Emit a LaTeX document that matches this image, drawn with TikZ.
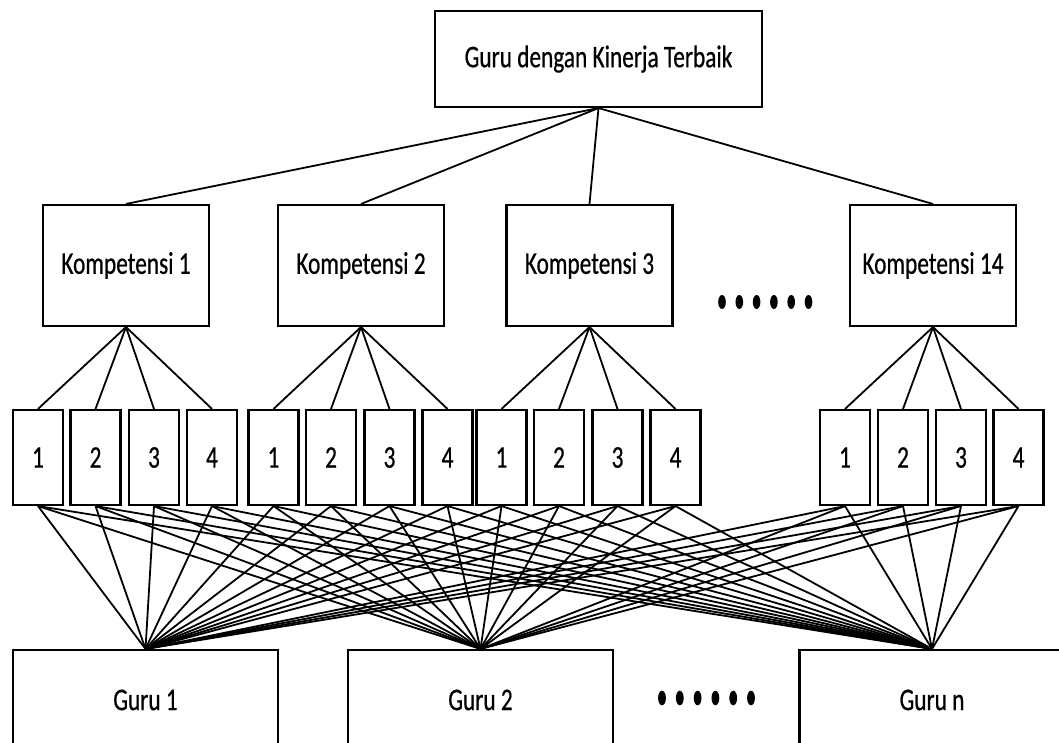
\documentclass[tikz,border=0pt]{standalone}
\usepackage{fontspec}
\setmainfont{Carlito}[FakeStretch=0.74,FakeBold=0.6]
\begin{document}
\begin{tikzpicture}[x=1pt,y=-1pt,
  box/.style={draw,line width=2.1pt,inner sep=0pt,rectangle,
    font=\fontsize{31.5}{36}\selectfont},
  topbox/.style={box,minimum width=327pt,minimum height=96pt},
  kbox/.style={box,minimum width=166pt,minimum height=121pt},
  ibox/.style={box,minimum width=50pt,minimum height=95pt},
  gbox/.style={box,minimum width=265pt,minimum height=100pt},
  link/.style={line width=1.8pt},
  dot/.style={fill=black}]
\useasboundingbox (0,0) rectangle (1059,743);
\clip (0,0) rectangle (1059,743);

% goal
\node[topbox] (top) at (598.5,59) {Guru dengan Kinerja Terbaik};

% criteria
\node[kbox] (k1)  at (126,265.5)   {Kompetensi 1};
\node[kbox] (k2)  at (361,265.5)   {Kompetensi 2};
\node[kbox] (k3)  at (589.5,265.5) {Kompetensi 3};
\node[kbox] (k14) at (933,265.5)   {Kompetensi 14};

\foreach \k in {k1,k2,k3,k14}
  \draw[link] (top.south) -- (\k.north);

% sub-criteria, four under each criterion
\foreach \k/\xs in {k1/{38,95.5,154,212},
                    k2/{273.5,331,389.5,447.5},
                    k3/{501.5,559,617.5,675.5},
                    k14/{845,903,961,1018.5}}{
  \foreach \x [count=\i] in \xs {
    \node[ibox] (\k-\i) at (\x,457.5) {\i};
    \draw[link] (\k.south) -- (\k-\i.north);
  }
}

% alternatives
\node[gbox] (g1) at (145.5,700) {Guru 1};
\node[gbox] (g2) at (480.5,700) {Guru 2};
\node[gbox] (gn) at (932,700)   {Guru n};

\foreach \k in {k1,k2,k3,k14}
  \foreach \i in {1,...,4}
    \foreach \g in {g1,g2,gn}
      \draw[link] (\k-\i.south) -- (\g.north);

% ellipsis marks
\foreach \i in {0,...,5}{
  \fill[dot] (722+17.3*\i,302) ellipse (3.8pt and 7pt);
  \fill[dot] (662+17.8*\i,698) ellipse (3.9pt and 7.3pt);
}
\end{tikzpicture}
\end{document}
